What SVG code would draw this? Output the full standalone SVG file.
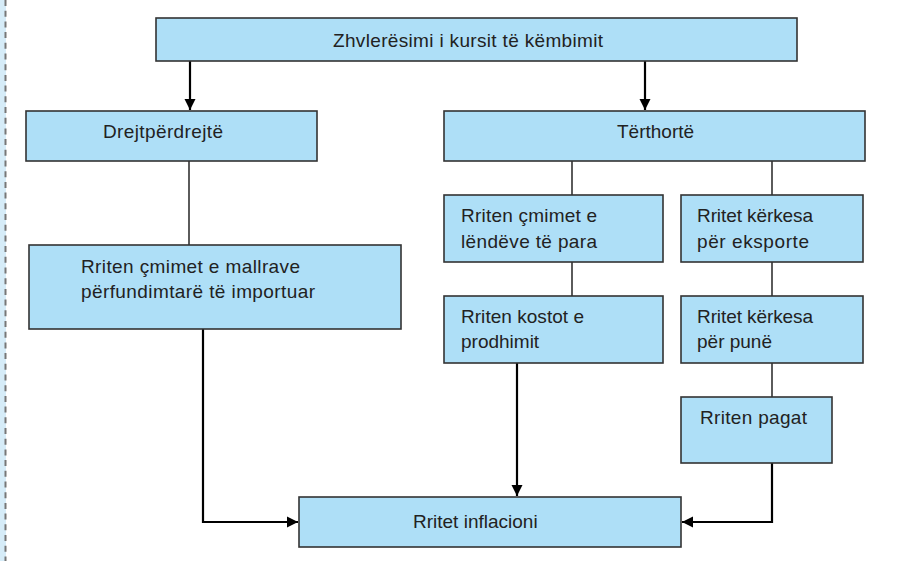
<svg xmlns="http://www.w3.org/2000/svg" width="901" height="561" viewBox="0 0 901 561">
<style>
.box{fill:#aedff7;stroke:#333;stroke-width:1.6}
.t{font-family:"Liberation Sans",Arial,sans-serif;font-size:19px;fill:#222}
.thin{fill:none;stroke:#333;stroke-width:1.6}
.arr{fill:none;stroke:#000;stroke-width:2.2}
</style>
<defs>
<marker id="ah" markerUnits="userSpaceOnUse" markerWidth="12" markerHeight="12" viewBox="0 0 12 12" refX="11" refY="6" orient="auto">
<path d="M0,0.5 L11,6 L0,11.5 Z" fill="#000"/>
</marker>
</defs>
<rect x="0" y="0" width="6" height="561" fill="#d6ecf8"/>
<line x1="5.5" y1="0" x2="5.5" y2="561" stroke="#777" stroke-width="2" stroke-dasharray="6,4.7"/>
<g id="connectors">
<path class="arr" d="M190,61 V110" marker-end="url(#ah)"/>
<path class="arr" d="M645,61 V110" marker-end="url(#ah)"/>
<path class="thin" d="M189,161 V245"/>
<path class="arr" d="M203,329 V522 H298" marker-end="url(#ah)"/>
<path class="thin" d="M572,161 V195"/>
<path class="thin" d="M572,262 V296"/>
<path class="arr" d="M517,363 V496" marker-end="url(#ah)"/>
<path class="thin" d="M772,161 V195"/>
<path class="thin" d="M772,262 V296"/>
<path class="thin" d="M772,363 V397"/>
<path class="arr" d="M772,463 V522 H682" marker-end="url(#ah)"/>
</g>
<g id="n-zhvleresimi">
<rect class="box" x="156" y="18" width="641" height="43"/>
<text class="t" x="333" y="47" textLength="270" lengthAdjust="spacing">Zhvlerësimi i kursit të këmbimit</text>
</g>
<g id="n-drejt">
<rect class="box" x="26" y="111" width="291" height="50"/>
<text class="t" x="103" y="138" textLength="120" lengthAdjust="spacing">Drejtpërdrejtë</text>
</g>
<g id="n-terthorte">
<rect class="box" x="444" y="111" width="421" height="50"/>
<text class="t" x="617" y="138">Tërthortë</text>
</g>
<g id="n-mallrave">
<rect class="box" x="29" y="245" width="372" height="84"/>
<text class="t" x="81" y="273" textLength="219" lengthAdjust="spacing">Rriten çmimet e mallrave</text>
<text class="t" x="81" y="298" textLength="234" lengthAdjust="spacing">përfundimtarë të importuar</text>
</g>
<g id="n-lendeve">
<rect class="box" x="444" y="195" width="219" height="67"/>
<text class="t" x="461" y="222" textLength="136" lengthAdjust="spacing">Rriten çmimet e</text>
<text class="t" x="461" y="248" textLength="136" lengthAdjust="spacing">lëndëve të para</text>
</g>
<g id="n-eksporte">
<rect class="box" x="681" y="195" width="182" height="67"/>
<text class="t" x="697" y="222" textLength="116" lengthAdjust="spacing">Rritet kërkesa</text>
<text class="t" x="697" y="248" textLength="112" lengthAdjust="spacing">për eksporte</text>
</g>
<g id="n-kostot">
<rect class="box" x="444" y="296" width="219" height="67"/>
<text class="t" x="461" y="323" textLength="123" lengthAdjust="spacing">Rriten kostot e</text>
<text class="t" x="461" y="348">prodhimit</text>
</g>
<g id="n-pune">
<rect class="box" x="681" y="296" width="182" height="67"/>
<text class="t" x="697" y="323" textLength="116" lengthAdjust="spacing">Rritet kërkesa</text>
<text class="t" x="697" y="348">për punë</text>
</g>
<g id="n-pagat">
<rect class="box" x="681" y="397" width="151" height="66"/>
<text class="t" x="700" y="424" textLength="107" lengthAdjust="spacing">Rriten pagat</text>
</g>
<g id="n-inflacioni">
<rect class="box" x="299" y="497" width="382" height="50"/>
<text class="t" x="413" y="528">Rritet inflacioni</text>
</g>
</svg>
